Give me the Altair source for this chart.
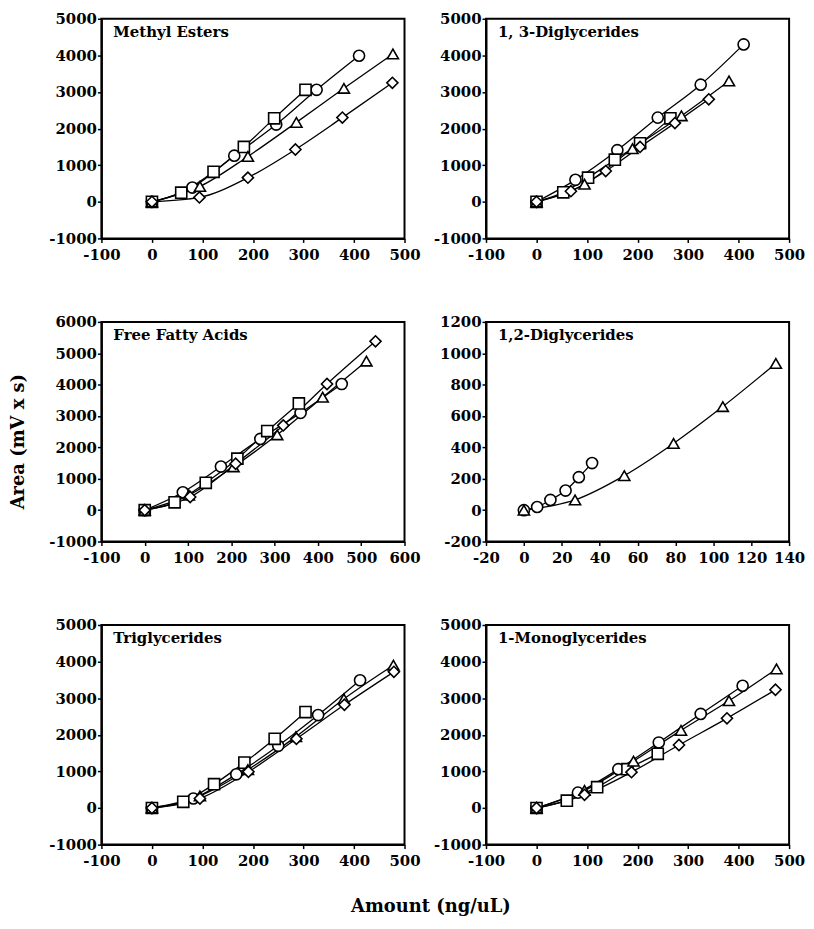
import altair as alt
import pandas as pd

SERIES = ["circle", "square", "triangle", "diamond"]
SHAPES = ["circle", "square", "triangle-up", "diamond"]

# ---- Methyl Esters ----
ME_CIRCLE_X = [0, 80, 163, 246, 326, 410]
ME_CIRCLE_Y = [0, 390, 1260, 2110, 3060, 3990]
ME_SQUARE_X = [0, 58, 122, 182, 242, 304]
ME_SQUARE_Y = [0, 250, 820, 1500, 2280, 3060]
ME_TRIANGLE_X = [0, 95, 190, 286, 380, 477]
ME_TRIANGLE_Y = [0, 420, 1240, 2170, 3100, 4040]
ME_DIAMOND_X = [0, 94, 190, 284, 377, 476]
ME_DIAMOND_Y = [0, 120, 660, 1430, 2300, 3250]

# ---- 1,3-Diglycerides ----
DG13_CIRCLE_X = [0, 77, 160, 240, 325, 410]
DG13_CIRCLE_Y = [0, 600, 1410, 2300, 3200, 4300]
DG13_SQUARE_X = [0, 53, 102, 155, 205, 265]
DG13_SQUARE_Y = [0, 260, 660, 1150, 1600, 2280]
DG13_TRIANGLE_X = [0, 95, 190, 287, 381]
DG13_TRIANGLE_Y = [0, 480, 1450, 2350, 3300]
DG13_DIAMOND_X = [0, 68, 137, 205, 274, 341]
DG13_DIAMOND_Y = [0, 290, 840, 1500, 2150, 2800]

# ---- Free Fatty Acids ----
FFA_CIRCLE_X = [0, 88, 176, 267, 360, 455]
FFA_CIRCLE_Y = [0, 570, 1390, 2270, 3100, 4020]
FFA_SQUARE_X = [0, 69, 141, 214, 283, 356]
FFA_SQUARE_Y = [0, 250, 870, 1640, 2520, 3400]
FFA_TRIANGLE_X = [0, 102, 205, 306, 411, 512]
FFA_TRIANGLE_Y = [0, 480, 1380, 2400, 3600, 4750]
FFA_DIAMOND_X = [0, 105, 210, 320, 421, 533]
FFA_DIAMOND_Y = [0, 420, 1480, 2700, 4020, 5380]

# ---- 1,2-Diglycerides ----
DG12_CIRCLE_X = [0, 7, 14, 22, 29, 36]
DG12_CIRCLE_Y = [0, 20, 65, 125, 210, 300]
DG12_TRIANGLE_X = [0, 27, 53, 79, 105, 133]
DG12_TRIANGLE_Y = [0, 65, 220, 425, 660, 935]

# ---- Triglycerides ----
TG_CIRCLE_X = [0, 82, 167, 250, 329, 412]
TG_CIRCLE_Y = [0, 260, 920, 1700, 2540, 3490]
TG_SQUARE_X = [0, 62, 123, 183, 243, 304]
TG_SQUARE_Y = [0, 170, 650, 1240, 1890, 2620]
TG_TRIANGLE_X = [0, 95, 190, 285, 380, 478]
TG_TRIANGLE_Y = [0, 330, 1050, 1950, 2980, 3900]
TG_DIAMOND_X = [0, 95, 191, 286, 381, 479]
TG_DIAMOND_Y = [0, 260, 990, 1890, 2820, 3720]

# ---- 1-Monoglycerides ----
MG_CIRCLE_X = [0, 82, 162, 242, 325, 408]
MG_CIRCLE_Y = [0, 420, 1060, 1790, 2570, 3340]
MG_SQUARE_X = [0, 60, 120, 180, 240]
MG_SQUARE_Y = [0, 200, 570, 1060, 1480]
MG_TRIANGLE_X = [0, 95, 192, 286, 381, 475]
MG_TRIANGLE_Y = [0, 480, 1280, 2120, 2930, 3800]
MG_DIAMOND_X = [0, 95, 188, 282, 377, 473]
MG_DIAMOND_Y = [0, 360, 980, 1720, 2450, 3230]

TITLES = ["Methyl Esters", "1, 3-Diglycerides", "Free Fatty Acids",
          "1,2-Diglycerides", "Triglycerides", "1-Monoglycerides"]

X_TICKS_500 = [-100, 0, 100, 200, 300, 400, 500]
X_TICKS_600 = [-100, 0, 100, 200, 300, 400, 500, 600]
X_TICKS_140 = [-20, 0, 20, 40, 60, 80, 100, 120, 140]
Y_TICKS_5000 = [-1000, 0, 1000, 2000, 3000, 4000, 5000]
Y_TICKS_6000 = [-1000, 0, 1000, 2000, 3000, 4000, 5000, 6000]
Y_TICKS_1200 = [-200, 0, 200, 400, 600, 800, 1000, 1200]

W, H = 305, 221
FONT = "DejaVu Serif"
LABEL_EXPR = "datum.value < 0 ? '-' + abs(datum.value) : '' + datum.value"


def frame(series):
    rows = []
    for name, xs, ys in series:
        for i, (x, y) in enumerate(zip(xs, ys)):
            rows.append({"series": name, "x": x, "y": y, "i": i})
    return pd.DataFrame(rows)


def panel(title, series, xticks, yticks, xaxis_extra=None, yaxis_extra=None):
    df = frame(series)
    xa = dict(values=xticks, title=None, labelExpr=LABEL_EXPR, labelOverlap=False,
              labelFlush=False, labelPadding=5, labelBound=False)
    ya = dict(values=yticks, title=None, labelExpr=LABEL_EXPR, labelOverlap=False,
              labelFlush=False, labelPadding=1, labelBound=False)
    if xaxis_extra:
        xa.update(xaxis_extra)
    if yaxis_extra:
        ya.update(yaxis_extra)
    xenc = alt.X("x:Q", scale=alt.Scale(domain=[xticks[0], xticks[-1]], nice=False, zero=False),
                 axis=alt.Axis(**xa))
    yenc = alt.Y("y:Q", scale=alt.Scale(domain=[yticks[0], yticks[-1]], nice=False, zero=False),
                 axis=alt.Axis(**ya))
    base = alt.Chart(df)
    lines = base.mark_line(color="black", strokeWidth=1.3, interpolate="monotone").encode(
        x=xenc, y=yenc, detail="series:N", order="i:Q")
    pts = base.mark_point(filled=True, fill="white", stroke="black", strokeWidth=1.6,
                          size=125, opacity=1).encode(
        x=xenc, y=yenc,
        shape=alt.Shape("series:N", scale=alt.Scale(domain=SERIES, range=SHAPES), legend=None))
    label = alt.Chart(pd.DataFrame({"t": [title]})).mark_text(
        align="left", baseline="top", font=FONT, fontWeight="bold", fontSize=15, color="black"
    ).encode(text="t:N", x=alt.value(12), y=alt.value(6))
    return alt.layer(lines, pts, label).properties(width=W, height=H)


p1 = panel(TITLES[0], [("circle", ME_CIRCLE_X, ME_CIRCLE_Y), ("square", ME_SQUARE_X, ME_SQUARE_Y),
                       ("triangle", ME_TRIANGLE_X, ME_TRIANGLE_Y), ("diamond", ME_DIAMOND_X, ME_DIAMOND_Y)],
           X_TICKS_500, Y_TICKS_5000)
p2 = panel(TITLES[1], [("circle", DG13_CIRCLE_X, DG13_CIRCLE_Y), ("square", DG13_SQUARE_X, DG13_SQUARE_Y),
                       ("triangle", DG13_TRIANGLE_X, DG13_TRIANGLE_Y), ("diamond", DG13_DIAMOND_X, DG13_DIAMOND_Y)],
           X_TICKS_500, Y_TICKS_5000)
p3 = panel(TITLES[2], [("circle", FFA_CIRCLE_X, FFA_CIRCLE_Y), ("square", FFA_SQUARE_X, FFA_SQUARE_Y),
                       ("triangle", FFA_TRIANGLE_X, FFA_TRIANGLE_Y), ("diamond", FFA_DIAMOND_X, FFA_DIAMOND_Y)],
           X_TICKS_600, Y_TICKS_6000,
           yaxis_extra=dict(title="Area (mV x s)", titleX=-78, titleY=120, titleAngle=-90,
                            titleAlign="center", titleBaseline="alphabetic"))
p4 = panel(TITLES[3], [("circle", DG12_CIRCLE_X, DG12_CIRCLE_Y), ("triangle", DG12_TRIANGLE_X, DG12_TRIANGLE_Y)],
           X_TICKS_140, Y_TICKS_1200)
p5 = panel(TITLES[4], [("circle", TG_CIRCLE_X, TG_CIRCLE_Y), ("square", TG_SQUARE_X, TG_SQUARE_Y),
                       ("triangle", TG_TRIANGLE_X, TG_TRIANGLE_Y), ("diamond", TG_DIAMOND_X, TG_DIAMOND_Y)],
           X_TICKS_500, Y_TICKS_5000,
           xaxis_extra=dict(title="Amount (ng/uL)", titleX=331, titleY=67,
                            titleAlign="center", titleBaseline="alphabetic"))
p6 = panel(TITLES[5], [("circle", MG_CIRCLE_X, MG_CIRCLE_Y), ("square", MG_SQUARE_X, MG_SQUARE_Y),
                       ("triangle", MG_TRIANGLE_X, MG_TRIANGLE_Y), ("diamond", MG_DIAMOND_X, MG_DIAMOND_Y)],
           X_TICKS_500, Y_TICKS_5000)

chart = alt.concat(
    p1, p2, p3, p4, p5, p6, columns=2,
    spacing=alt.RowColnumber(row=84, column=82), bounds="flush"
).properties(
    padding={"left": 0, "top": 0, "right": 0, "bottom": 0}, background="white"
).configure_view(
    stroke="black", strokeWidth=2
).configure_axis(
    grid=False, domainColor="black", domainWidth=2, tickColor="black", tickWidth=1.5,
    tickSize=4, labelFont=FONT, labelFontWeight="bold", labelFontSize=15, labelColor="black",
    titleFont=FONT, titleFontWeight="bold", titleFontSize=18, titleColor="black",
    labelOverlap=False
)

chart.save("out.html", embed_options={"renderer": "svg", "actions": False})
